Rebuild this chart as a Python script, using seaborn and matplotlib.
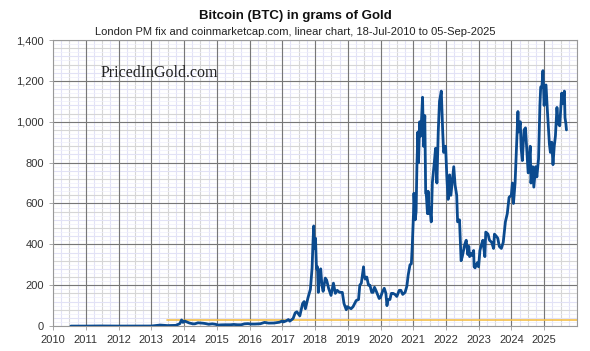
import numpy as np
import matplotlib.pyplot as plt
import pandas as pd
import seaborn as sns

# BTC price expressed in grams of gold
dates = [
    "2010-07-18", "2011-01-01", "2011-06-10", "2012-01-01", "2012-08-15", "2013-01-01",
    "2013-04-10", "2013-07-01", "2013-10-01", "2013-11-15", "2013-12-04", "2013-12-20",
    "2014-01-05", "2014-02-01", "2014-03-01", "2014-04-10", "2014-05-01", "2014-06-05",
    "2014-07-01", "2014-08-01", "2014-09-01", "2014-10-01", "2014-11-12", "2014-12-15",
    "2015-01-15", "2015-02-15", "2015-04-01", "2015-06-01", "2015-07-10", "2015-08-20",
    "2015-10-01", "2015-11-05", "2015-12-15", "2016-01-15", "2016-03-01", "2016-05-01",
    "2016-06-17", "2016-08-01", "2016-10-01", "2016-12-01", "2017-01-04", "2017-01-12",
    "2017-02-15", "2017-03-10", "2017-03-25", "2017-05-01", "2017-05-25", "2017-06-12",
    "2017-07-15", "2017-08-15", "2017-09-01", "2017-09-15", "2017-10-15", "2017-11-10",
    "2017-11-29", "2017-12-08", "2017-12-17", "2017-12-23", "2018-01-06", "2018-01-17",
    "2018-01-28", "2018-02-06", "2018-02-20", "2018-03-05", "2018-03-18", "2018-04-01",
    "2018-04-25", "2018-05-10", "2018-06-01", "2018-06-28", "2018-07-25", "2018-08-15",
    "2018-09-05", "2018-10-01", "2018-11-01", "2018-11-20", "2018-12-15", "2018-12-25",
    "2019-01-15", "2019-02-07", "2019-03-01", "2019-04-05", "2019-05-01", "2019-05-15",
    "2019-06-01", "2019-06-26", "2019-07-02", "2019-07-15", "2019-08-01", "2019-08-20",
    "2019-09-05", "2019-09-25", "2019-10-10", "2019-10-26", "2019-11-15", "2019-12-17",
    "2020-01-01", "2020-01-20", "2020-02-12", "2020-03-01", "2020-03-13", "2020-03-25",
    "2020-04-15", "2020-05-01", "2020-05-20", "2020-06-10", "2020-07-01", "2020-07-28",
    "2020-08-15", "2020-09-05", "2020-10-01", "2020-10-21", "2020-11-05", "2020-11-25",
    "2020-12-10", "2020-12-20", "2021-01-03", "2021-01-08", "2021-01-22", "2021-02-01",
    "2021-02-10", "2021-02-21", "2021-02-28", "2021-03-13", "2021-03-25", "2021-04-14",
    "2021-04-25", "2021-05-09", "2021-05-19", "2021-05-25", "2021-06-08", "2021-06-15",
    "2021-06-22", "2021-07-05", "2021-07-20", "2021-08-01", "2021-08-23", "2021-09-06",
    "2021-09-21", "2021-10-06", "2021-10-20", "2021-11-09", "2021-11-25", "2021-12-05",
    "2021-12-27", "2022-01-10", "2022-01-24", "2022-02-10", "2022-02-24", "2022-03-28",
    "2022-04-12", "2022-04-30", "2022-05-10", "2022-05-31", "2022-06-13", "2022-06-18",
    "2022-07-01", "2022-07-29", "2022-08-14", "2022-09-01", "2022-09-12", "2022-09-21",
    "2022-10-05", "2022-10-20", "2022-11-05", "2022-11-10", "2022-11-21", "2022-12-15",
    "2022-12-30", "2023-01-14", "2023-02-01", "2023-02-16", "2023-03-10", "2023-03-20",
    "2023-04-14", "2023-05-01", "2023-05-25", "2023-06-15", "2023-06-25", "2023-07-15",
    "2023-08-01", "2023-08-18", "2023-09-10", "2023-10-01", "2023-10-25", "2023-11-15",
    "2023-12-05", "2023-12-30", "2024-01-11", "2024-01-23", "2024-02-10", "2024-02-28",
    "2024-03-13", "2024-03-20", "2024-04-08", "2024-04-18", "2024-05-01", "2024-05-20",
    "2024-06-05", "2024-06-24", "2024-07-05", "2024-07-28", "2024-08-05", "2024-08-25",
    "2024-09-06", "2024-09-27", "2024-10-10", "2024-10-29", "2024-11-13", "2024-11-22",
    "2024-12-05", "2024-12-17", "2024-12-30", "2025-01-20", "2025-02-05", "2025-02-27",
    "2025-03-10", "2025-03-25", "2025-04-08", "2025-04-22", "2025-05-05", "2025-05-22",
    "2025-06-05", "2025-06-22", "2025-07-14", "2025-07-25", "2025-08-13", "2025-08-20",
    "2025-08-30", "2025-09-05",
]
grams = [
    0.002, 0.01, 0.6, 0.1, 0.3, 0.3,
    5, 2.5, 3.5, 12, 30, 18,
    25, 20, 15, 11, 11, 16,
    15, 14, 12, 9, 11, 9,
    5, 6, 6.5, 6.5, 8, 6.5,
    6.5, 11, 12, 10, 10, 11.5,
    18, 14.5, 15, 19, 26, 20,
    26, 32, 24, 37, 65, 70,
    50, 110, 120, 85, 140, 180,
    285, 400, 490, 380, 430, 280,
    290, 165, 270, 280, 200, 170,
    235, 225, 185, 150, 210, 160,
    175, 165, 165, 110, 80, 95,
    90, 85, 95, 125, 130, 200,
    210, 290, 250, 230, 240, 200,
    200, 165, 165, 190, 170, 135,
    140, 165, 185, 160, 100, 130,
    130, 160, 160, 155, 145, 175,
    175, 155, 165, 195, 250, 300,
    305, 390, 550, 650, 520, 560,
    780, 950, 800, 1000, 930, 1120,
    880, 1030, 650, 650, 550, 660,
    550, 580, 510, 700, 800, 870,
    700, 950, 1100, 1150, 950, 850,
    880, 730, 620, 740, 640, 780,
    690, 640, 510, 520, 370, 320,
    340, 400, 420, 350, 390, 340,
    355, 345, 370, 290, 285, 310,
    290, 370, 400, 420, 340, 460,
    450, 420, 410, 380, 450, 440,
    430, 390, 380, 410, 510, 550,
    630, 640, 700, 600, 700, 900,
    1050, 950, 1000, 870, 810, 960,
    970, 830, 750, 880, 700, 780,
    680, 780, 730, 820, 1080, 1170,
    1170, 1250, 1080, 1180, 1050, 890,
    850, 900, 790, 880, 930, 1070,
    990, 980, 1140, 1090, 1150, 1020,
    990, 960,
]

# one troy ounce reference line
ounce_dates = ["2013-06-20", "2026-01-01"]
ounce_grams = [31.1, 31.1]

year_labels = [str(y) for y in range(2010, 2026)]

df = pd.DataFrame({"date": pd.to_datetime(dates), "grams": grams})
oz = pd.DataFrame({"date": pd.to_datetime(ounce_dates), "grams": ounce_grams})

sns.set_style("white")
plt.rcParams["font.family"] = ["Liberation Sans", "DejaVu Sans"]

fig = plt.figure(figsize=(5.9, 3.51), dpi=100)
ax = fig.add_axes([0.09, 0.071, 0.888, 0.815])

ax.set_xlim(pd.Timestamp("2010-01-01"), pd.Timestamp("2026-01-01"))
ax.set_ylim(0, 1400)

# grid layers: faint lavender, light grey, dark major
for i, q in enumerate(pd.date_range("2010-01-01", "2026-01-01", freq="QS")):
    c = "#d6d6d6" if i % 2 == 0 else "#e2e2f6"
    ax.axvline(q, color=c, lw=0.8, zorder=0)
for i, v in enumerate(np.arange(0, 1401, 40)):
    c = "#d6d6d6" if i % 2 == 0 else "#e2e2f6"
    ax.axhline(v, color=c, lw=0.8, zorder=0)
for v in np.arange(20, 1401, 40):
    ax.axhline(v, color="#eeeefb", lw=0.5, zorder=0)
for y in range(2011, 2026):
    ax.axvline(pd.Timestamp(f"{y}-01-01"), color="#777777", lw=0.8, zorder=1)
for v in range(200, 1401, 200):
    ax.axhline(v, color="#777777", lw=0.8, zorder=1)

sns.lineplot(data=oz, x="date", y="grams", ax=ax, color="#f5c04a", lw=1.2, zorder=2)
sns.lineplot(data=df, x="date", y="grams", ax=ax, color="#0b4a8e", lw=2.0, zorder=3)

ax.set_xticks(pd.to_datetime([f"{y}-01-01" for y in range(2010, 2026)]))
ax.set_xticklabels(year_labels)
ax.set_yticks(range(0, 1401, 200))
ax.set_yticklabels([f"{v:,}" for v in range(0, 1401, 200)])
ax.tick_params(axis="both", labelsize=8, colors="#333333", length=3, width=0.6)
ax.tick_params(axis="x", bottom=True, color="#999999")
ax.tick_params(axis="y", left=True, color="#999999")
ax.set_xlabel("")
ax.set_ylabel("")
for s in ax.spines.values():
    s.set_color("#999999")
    s.set_linewidth(0.8)

fig.text(0.5, 0.955, "Bitcoin (BTC) in grams of Gold", ha="center", va="center",
         fontsize=9.5, fontweight="bold", color="#111111")
fig.text(0.5, 0.91, "London PM fix and coinmarketcap.com, linear chart, 18-Jul-2010 to 05-Sep-2025",
         ha="center", va="center", fontsize=8, color="#222222")
ax.text(0.09, 0.885, "PricedInGold.com", transform=ax.transAxes, fontsize=11.5,
        family=["Liberation Serif", "DejaVu Serif"], color="#222222", va="center")

fig.savefig("out.png", dpi=100)
